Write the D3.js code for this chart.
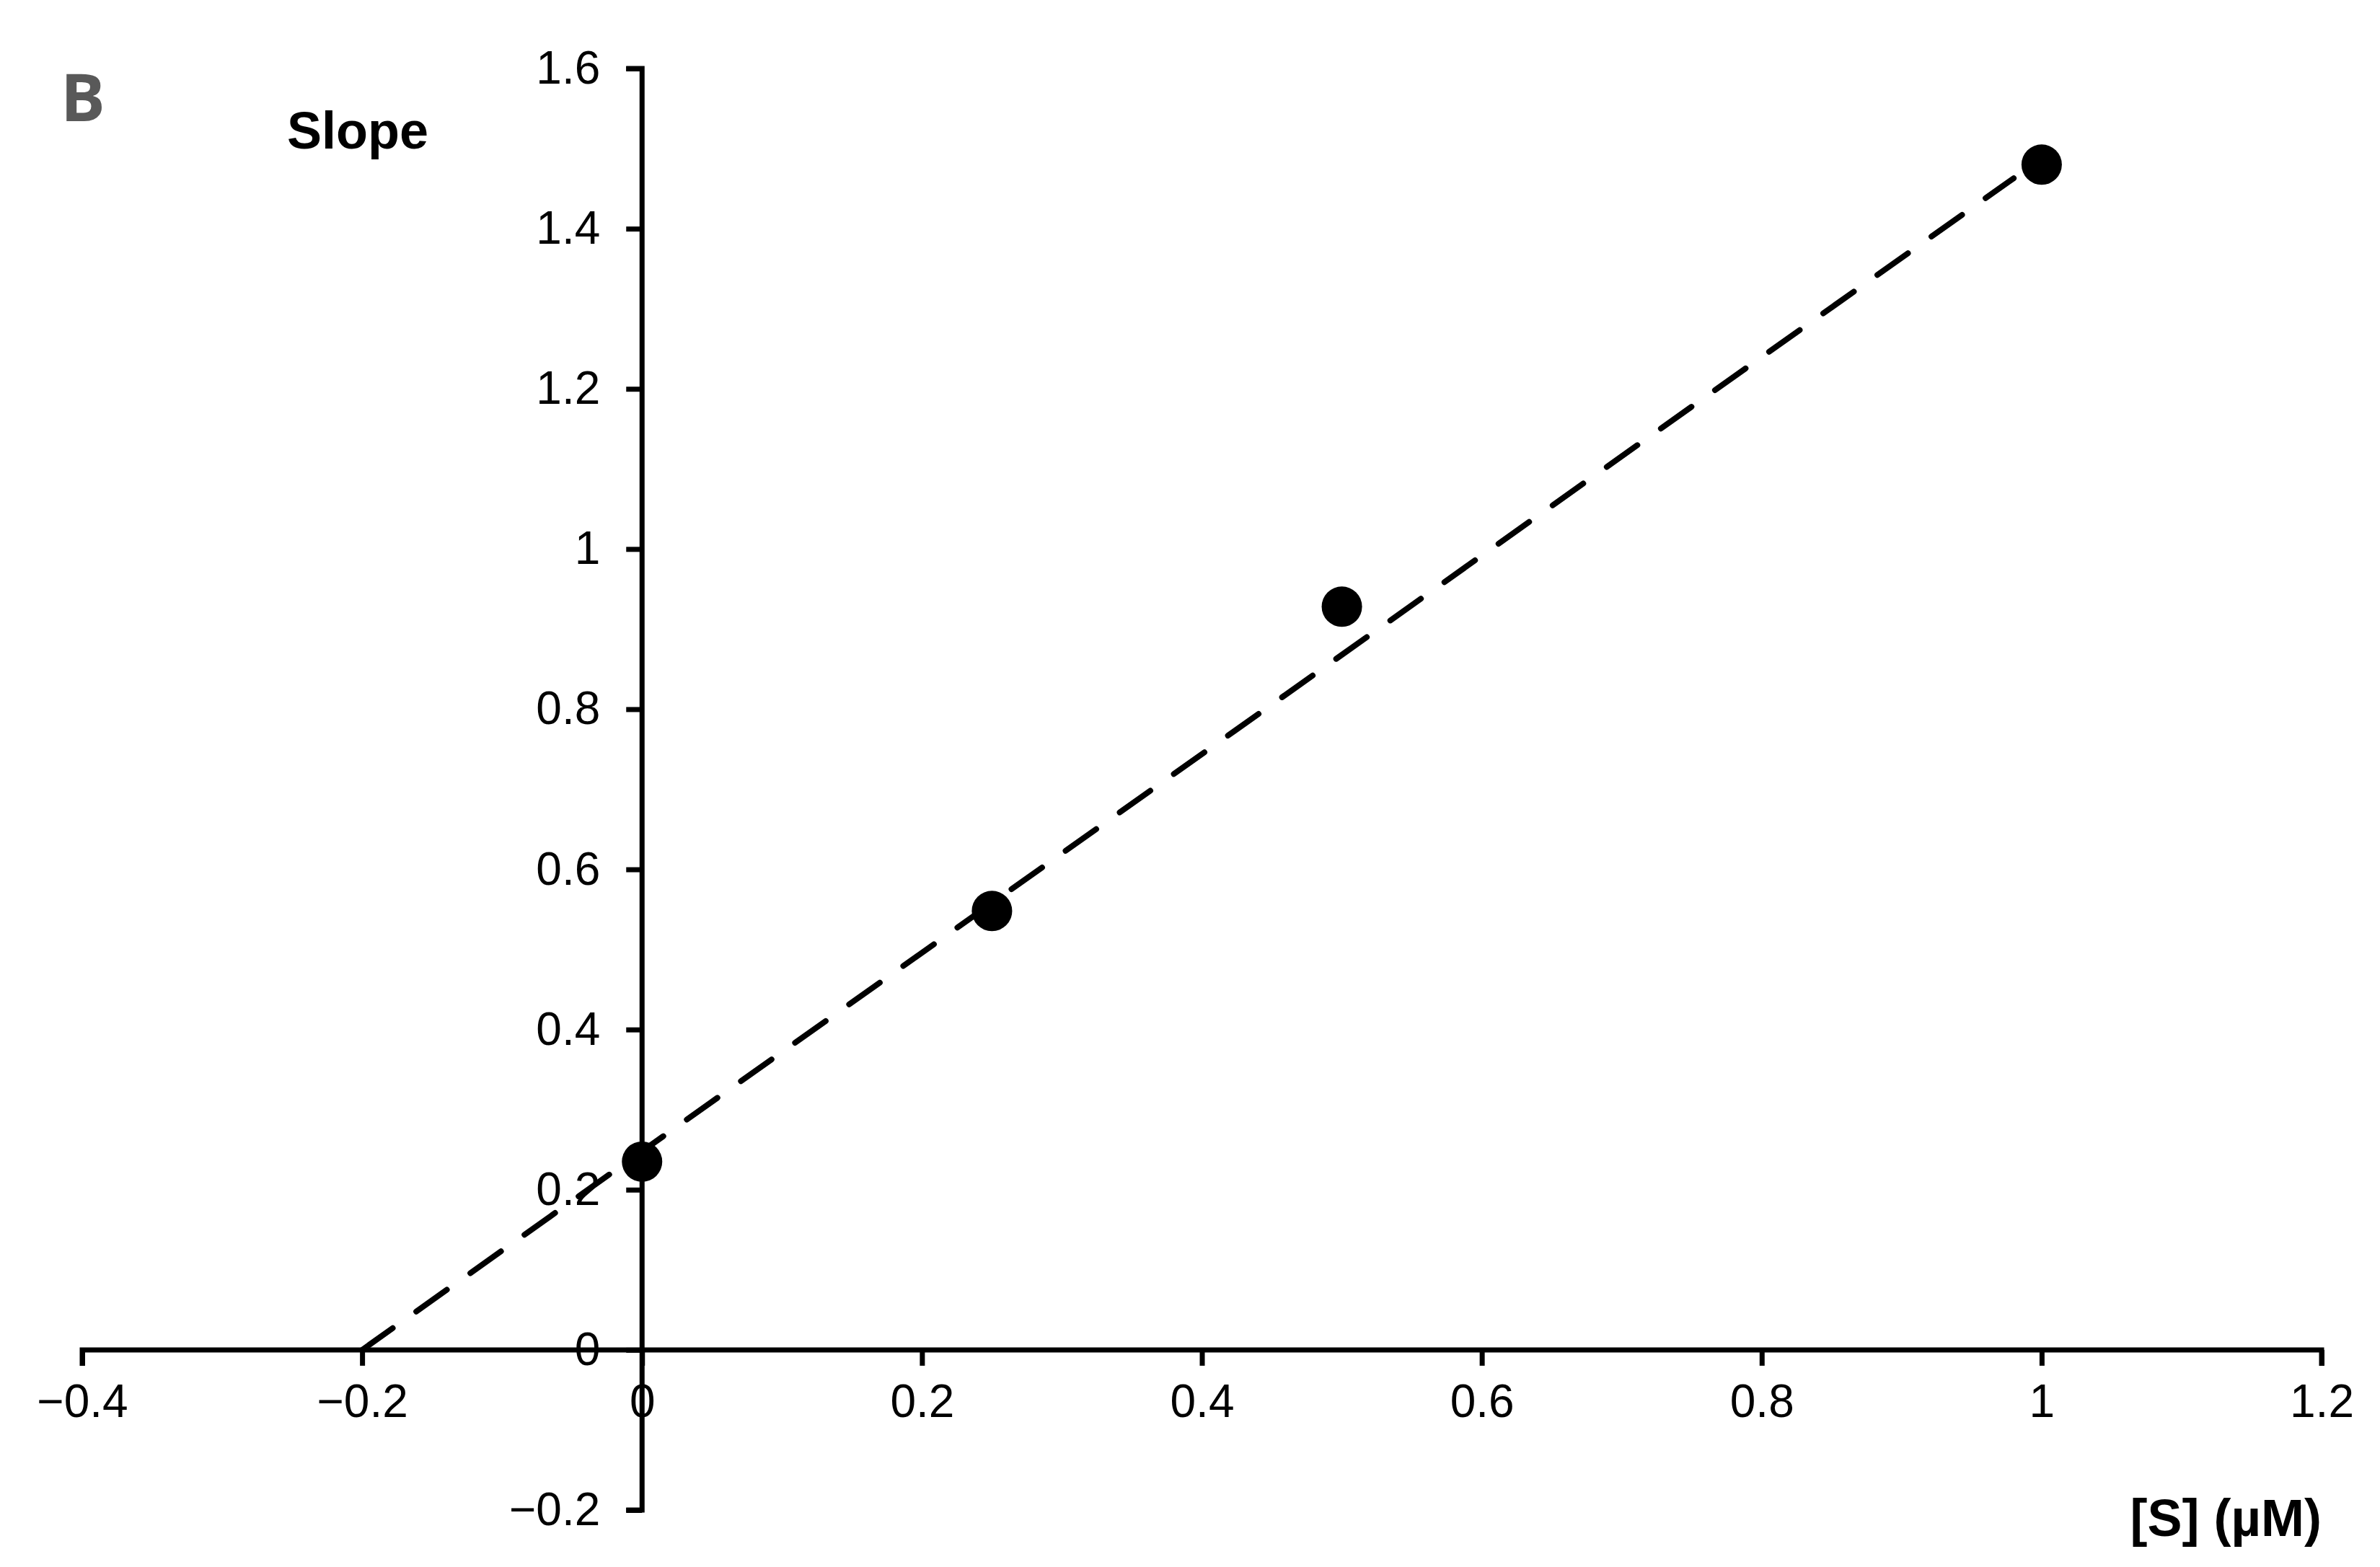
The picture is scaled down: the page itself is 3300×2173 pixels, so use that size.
<!DOCTYPE html>
<html><head><meta charset="utf-8">
<script src="https://cdn.jsdelivr.net/npm/d3@7"></script>
<style>body{margin:0;background:#fff}</style></head>
<body><svg id="c" width="3300" height="2173"></svg>
<script>
const xTicks = [-0.4, -0.2, 0, 0.2, 0.4, 0.6, 0.8, 1, 1.2];
const yTicks = [-0.2, 0, 0.2, 0.4, 0.6, 0.8, 1, 1.2, 1.4, 1.6];
const sConc  = [0, 0.25, 0.5, 1];
const slopes = [0.235, 0.548, 0.928, 1.48];
const fitX   = [-0.2, 0.98];
const fitY   = [0, 1.463];

const svg = d3.select('#c');
const x = d3.scaleLinear().domain([-0.4, 1.2]).range([114, 3219]);
const y = d3.scaleLinear().domain([-0.2, 1.6]).range([2094, 95]);
const font = '"Liberation Sans", Arial, sans-serif';

// x axis at y=0
const gx = svg.append('g').attr('transform', `translate(0,${y(0)})`)
    .call(d3.axisBottom(x).tickValues(xTicks).tickSize(22).tickPadding(26)
        .tickFormat(d => d3.format('~g')(d)));
// y axis at x=0
const gy = svg.append('g').attr('transform', `translate(${x(0)},0)`)
    .call(d3.axisLeft(y).tickValues(yTicks).tickSize(22).tickPadding(36)
        .tickFormat(d => d3.format('~g')(d)));
[gx, gy].forEach(g => {
    g.select('.domain').attr('stroke', '#000').attr('stroke-width', 7);
    g.selectAll('.tick line').attr('stroke', '#000').attr('stroke-width', 7);
    g.selectAll('.tick text').attr('font-family', font).attr('font-size', 64).attr('fill', '#000');
});
gx.select('.domain').attr('d', `M${x(-0.4)},22V0H${x(1.2)}V22`);
gy.select('.domain').attr('d', `M-22,${y(-0.2)}H0V${y(1.6)}H-22`);

// fit line
svg.append('path')
    .datum(fitX.map((v, i) => [v, fitY[i]]))
    .attr('d', d3.line().x(d => x(d[0])).y(d => y(d[1])))
    .attr('fill', 'none').attr('stroke', '#000').attr('stroke-width', 8)
    .attr('stroke-linecap', 'round').attr('stroke-dasharray', '52,40');

svg.append('g').selectAll('circle').data(sConc).join('circle')
    .attr('cx', d => x(d)).attr('cy', (d, i) => y(slopes[i])).attr('r', 28).attr('fill', '#000');

svg.append('text').attr('x', 398).attr('y', 206).attr('font-family', font)
    .attr('font-weight', 'bold').attr('font-size', 72).text('Slope');
svg.append('text').attr('x', 3219).attr('y', 2130).attr('text-anchor', 'end').attr('font-family', font)
    .attr('font-weight', 'bold').attr('font-size', 72).text('[S] (µM)');
svg.append('text').attr('x', 84).attr('y', 168).attr('font-family', '"Open Sans", sans-serif')
    .attr('font-weight', 'bold').attr('font-size', 92).attr('fill', '#595959').text('B');
</script></body></html>
